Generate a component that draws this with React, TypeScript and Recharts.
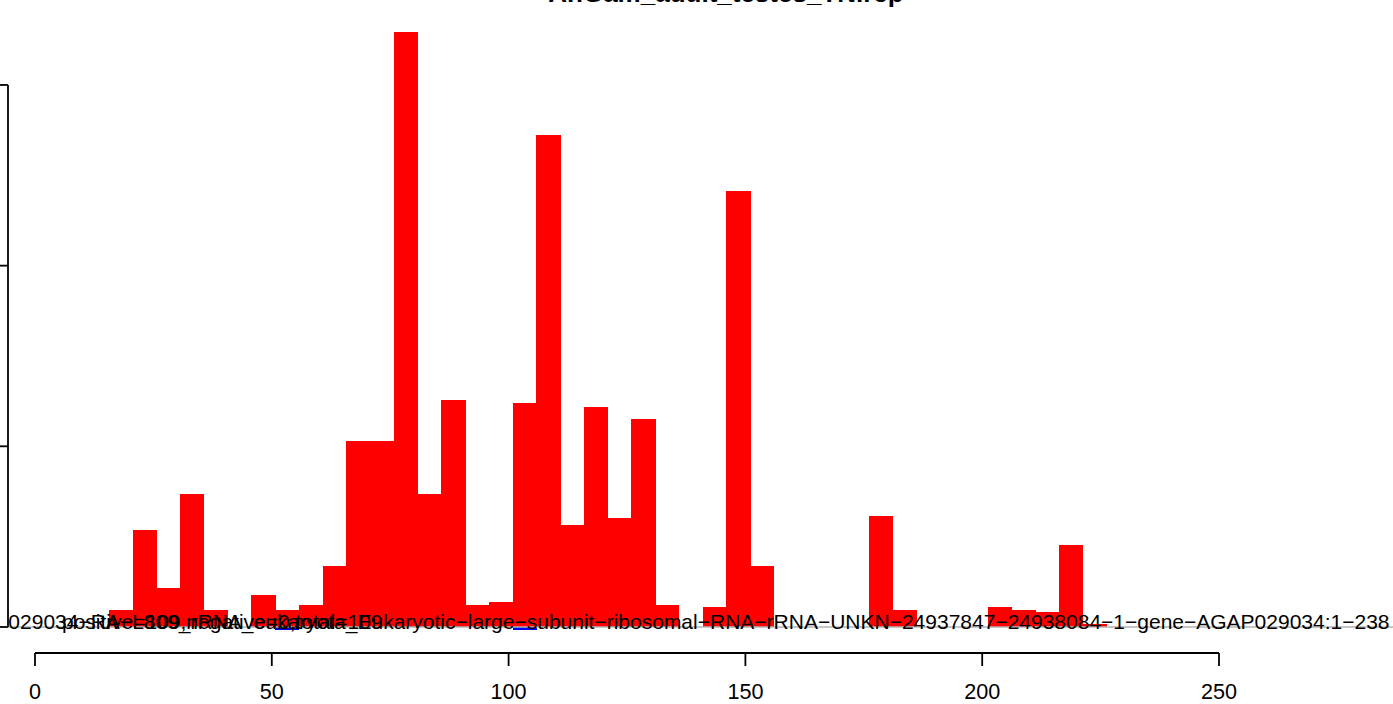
import { Bar, ComposedChart, Line, ReferenceLine, XAxis, YAxis } from 'recharts';

// 5-nt bins along the reference, read counts per strand (plus up, minus down)
const binStarts = [
  0, 5, 10, 15, 20, 25, 30, 35, 40, 45, 50, 55, 60, 65, 70, 75, 80, 85, 90, 95, 100, 105, 110, 115,
  120, 125, 130, 135, 140, 145, 150, 155, 160, 165, 170, 175, 180, 185, 190, 195, 200, 205, 210, 215,
  220, 225, 230, 235,
];
const plusReads = [
  0, 0, 0.94, 5.37, 2.16, 7.36, 0.94, 0, 1.77, 0.94, 1.22, 3.38, 10.29, 10.29, 32.93, 7.36, 12.56, 1.22,
  1.38, 12.4, 27.23, 5.64, 12.17, 6.03, 11.51, 1.22, 0, 1.11, 24.13, 3.38, 0, 0, 0, 0, 6.14, 0.94, 0, 0,
  0, 1.11, 0.94, 0.83, 4.54, 0.17, 0, 0, 0, 0,
];
const minusReads = [
  0, 0, 0, 0, 0, 0, 0, 0, 0, -0.17, 0, 0, 0, 0, 0, 0, 0, 0, 0, -0.17, 0, 0, 0, 0, 0, 0, 0, 0, 0, 0, 0, 0,
  0, 0, 0, 0, 0, 0, 0, 0, 0, 0, 0, 0, 0, 0, 0, 0,
];
const xTicks = [0, 50, 100, 150, 200, 250];
const yTicks = [0, 10, 20, 30];

const title = 'AnGam_adult_testes_TN.rcp';
const refName =
  'AGAP029034−RA−L809_rRNA_eukaryota_Eukaryotic−large−subunit−ribosomal−RNA−rRNA−UNKN−24937847−24938084−1−gene−AGAP029034:1−238';
const strandSummary = 'positive=109,negative=0,total=109';

const FONT = '"Liberation Sans", Arial, Helvetica, sans-serif';
const W = 1393;
const H = 704;
const LEFT = 8;
const SLOT_DOMAIN: [number, number] = [-2.24, 56.07];
const POS_DOMAIN: [number, number] = [-5.7, 286.74];
const Y_DOMAIN: [number, number] = [-1.44, 34.26];
const SLOT_PX = (W - LEFT) / (SLOT_DOMAIN[1] - SLOT_DOMAIN[0]);
const TICK_SLOTS = 13 / SLOT_PX;

// bars fill their whole slot (R barplot with space = 0)
const SlotBar = (props: any) => {
  const { x, y, width, height, fill } = props;
  if (!height) return <g />;
  const cx = x + width / 2;
  const top = Math.min(y, y + height);
  return <rect x={cx - SLOT_PX / 2} y={top} width={SLOT_PX + 0.4} height={Math.abs(height)} fill={fill} shapeRendering="crispEdges" />;
};

export default function App() {
  const rows = binStarts.map((start, i) => ({ start, slot: i + 0.5, plus: plusReads[i], minus: minusReads[i] }));

  return (
    <div style={{ position: 'absolute', left: 0, top: 0, width: W, height: H, overflow: 'hidden', background: '#fff', fontFamily: FONT }}>
      <ComposedChart width={W} height={H} data={rows} margin={{ top: 8, right: 0, bottom: 0, left: LEFT }} stackOffset="sign" barCategoryGap={0} barGap={0}>
        <XAxis xAxisId="slot" dataKey="slot" type="number" domain={SLOT_DOMAIN} allowDataOverflow hide />
        <XAxis
          xAxisId="pos"
          dataKey="start"
          type="number"
          domain={POS_DOMAIN}
          allowDataOverflow
          ticks={xTicks}
          interval={0}
          height={H - 653}
          axisLine={false}
          tickSize={13}
          tickMargin={18}
          tickLine={{ stroke: '#000', strokeWidth: 1.8 }}
          tick={{ fill: '#000', fontSize: 21.6, fontFamily: FONT }}
        />
        <YAxis type="number" domain={Y_DOMAIN} allowDataOverflow ticks={yTicks} width={0} axisLine={false} tickLine={false} tick={false} />
        <ReferenceLine xAxisId="slot" y={0} stroke="#b3b3b3" strokeWidth={1.5} ifOverflow="visible" />
        <Bar xAxisId="slot" dataKey="plus" stackId="s" fill="#ff0000" shape={SlotBar} isAnimationActive={false} />
        <Bar xAxisId="slot" dataKey="minus" stackId="s" fill="#0000ff" shape={SlotBar} isAnimationActive={false} />
        {/* invisible series so the position axis gets its own scale */}
        <Line xAxisId="pos" dataKey="plus" stroke="none" dot={false} activeDot={false} legendType="none" isAnimationActive={false} />
        {/* R style y axis: line from first to last tick, ticks pointing left */}
        <ReferenceLine
          xAxisId="slot"
          segment={[{ x: SLOT_DOMAIN[0], y: yTicks[0] }, { x: SLOT_DOMAIN[0], y: yTicks[yTicks.length - 1] }]}
          stroke="#000"
          strokeWidth={1.8}
          ifOverflow="visible"
        />
        {yTicks.map((t) => (
          <ReferenceLine
            key={t}
            xAxisId="slot"
            segment={[{ x: SLOT_DOMAIN[0] - TICK_SLOTS, y: t }, { x: SLOT_DOMAIN[0], y: t }]}
            stroke="#000"
            strokeWidth={1.8}
            ifOverflow="visible"
          />
        ))}
        <ReferenceLine
          xAxisId="pos"
          segment={[{ x: xTicks[0], y: Y_DOMAIN[0] }, { x: xTicks[xTicks.length - 1], y: Y_DOMAIN[0] }]}
          stroke="#000"
          strokeWidth={1.8}
          ifOverflow="visible"
        />
      </ComposedChart>

      <div style={{ position: 'absolute', left: 0, top: -20, width: 1452, textAlign: 'center', fontSize: 26, lineHeight: '26px', fontWeight: 'bold', color: '#000', whiteSpace: 'pre' }}>
        {title}
      </div>
      {/* labels are clipped to the plot region, as in R */}
      <div style={{ position: 'absolute', left: LEFT, top: 600, width: W - LEFT, height: 40, overflow: 'hidden' }}>
        <div style={{ position: 'absolute', left: -50 - LEFT, top: 11.2, fontSize: 21, lineHeight: '21px', color: '#000', whiteSpace: 'pre' }}>
          {refName}
        </div>
        <div style={{ position: 'absolute', left: 62 - LEFT, top: 11.2, fontSize: 21, lineHeight: '21px', color: '#000', whiteSpace: 'pre' }}>
          {strandSummary}
        </div>
      </div>
    </div>
  );
}
